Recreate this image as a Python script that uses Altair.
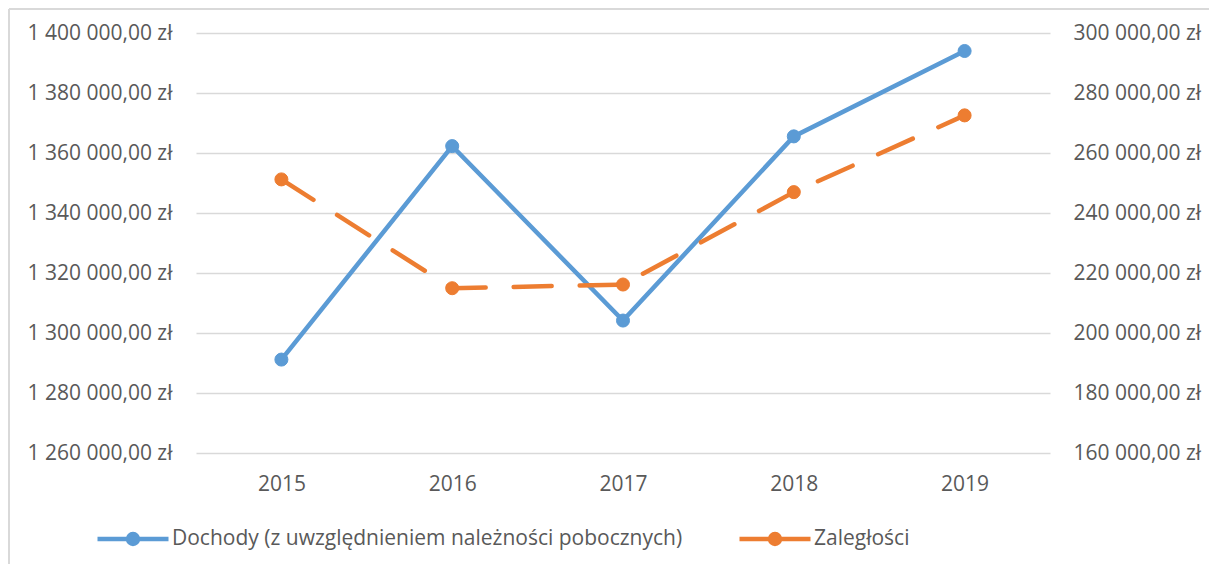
import altair as alt
import pandas as pd

years = ["2015", "2016", "2017", "2018", "2019"]
dochody = [1291140, 1362300, 1304150, 1365540, 1394000]
zaleglosci = [251200, 214930, 216160, 246960, 272540]
series_names = ["Dochody (z uwzględnieniem należności pobocznych)", "Zaległości"]
left_ticks = [1260000, 1280000, 1300000, 1320000, 1340000, 1360000, 1380000, 1400000]
right_ticks = [160000, 180000, 200000, 220000, 240000, 260000, 280000, 300000]

BLUE = "#5B9BD5"
ORANGE = "#ED7D31"
TEXT = "#595959"
GRID = "#D9D9D9"
FONT = "Open Sans"
FS = 21

df_a = pd.DataFrame({"rok": years, "wartosc": dochody, "seria": series_names[0]})
df_b = pd.DataFrame({"rok": years, "wartosc": zaleglosci, "seria": series_names[1]})

legend_symbol = ("M-1,0L1,0M-0.14,0A0.14,0.14,0,1,1,0.14,0"
                 "A0.14,0.14,0,1,1,-0.14,0Z")

pal = alt.Scale(domain=series_names, range=[BLUE, ORANGE])
x_enc = alt.X("rok:O", scale=alt.Scale(paddingOuter=0.5, paddingInner=0),
              axis=alt.Axis(title=None, labelAngle=0, domain=False, ticks=False,
                            labelPadding=20, labelFontSize=FS, labelFont=FONT,
                            labelColor=TEXT))

legend = alt.Legend(
    title=None, orient="none", legendX=-101, legendY=468, direction="horizontal",
    symbolType=legend_symbol, symbolSize=5041, symbolStrokeWidth=4.5,
    labelFont=FONT, labelFontSize=FS, labelColor=TEXT, labelOffset=1,
    columnPadding=47, padding=0, labelLimit=800,
)

y_left = alt.Y("wartosc:Q",
               scale=alt.Scale(domain=[1260000, 1400000], nice=False, zero=False),
               axis=alt.Axis(title=None, values=left_ticks, format="$,.2f",
                             domain=False, ticks=False, labelPadding=24,
                             labelFontSize=FS, labelFont=FONT, labelColor=TEXT,
                             grid=True, gridColor=GRID, gridWidth=1.3))
y_right = alt.Y("wartosc:Q",
                scale=alt.Scale(domain=[160000, 300000], nice=False, zero=False),
                axis=alt.Axis(title=None, orient="right", values=right_ticks,
                              format="$,.2f", domain=False, ticks=False,
                              labelPadding=23, labelFontSize=FS, labelFont=FONT,
                              labelColor=TEXT, grid=False))

a_line = alt.Chart(df_a).mark_line(strokeWidth=4.5, strokeCap="round",
                                   color=BLUE).encode(x=x_enc, y=y_left)
a_pts = alt.Chart(df_a).mark_point(filled=True, size=170, opacity=1,
                                   strokeWidth=1, shape="circle").encode(
    x=x_enc, y=y_left,
    fill=alt.Fill("seria:N", scale=pal, legend=legend),
    stroke=alt.Stroke("seria:N", scale=pal, legend=legend))

b_line = alt.Chart(df_b).mark_line(strokeWidth=4.5, strokeCap="round",
                                   strokeDash=[38, 28], color=ORANGE).encode(
    x=x_enc, y=y_right)
b_pts = alt.Chart(df_b).mark_point(filled=True, size=170, opacity=1,
                                   strokeWidth=1, shape="circle").encode(
    x=x_enc, y=y_right,
    fill=alt.Fill("seria:N", scale=pal, legend=legend),
    stroke=alt.Stroke("seria:N", scale=pal, legend=legend))

# light frame of the chart area (left and top edges)
frame_left = alt.Chart(pd.DataFrame({"k": [0]})).mark_rule(
    color=GRID, strokeWidth=2).encode(
    x=alt.value(-187), y=alt.value(-24), y2=alt.value(531))
frame_top = alt.Chart(pd.DataFrame({"k": [0]})).mark_rule(
    color=GRID, strokeWidth=2).encode(
    x=alt.value(-187), x2=alt.value(1013), y=alt.value(-24))

left_group = alt.layer(a_line, a_pts)
right_group = alt.layer(b_line, b_pts)

chart = alt.layer(left_group, right_group, frame_left, frame_top).resolve_scale(
    y="independent"
).properties(
    width=854, height=420,
    autosize=alt.AutoSizeParams(type="none"),
    padding={"left": 188, "top": 25, "right": 159, "bottom": 111},
).configure(
    view={"stroke": None},
    locale={"number": {"decimal": ",", "thousands": " ", "grouping": [3],
                       "currency": ["", " zł"]}}
)

chart.save("out.html", embed_options={"renderer": "svg", "actions": False})
